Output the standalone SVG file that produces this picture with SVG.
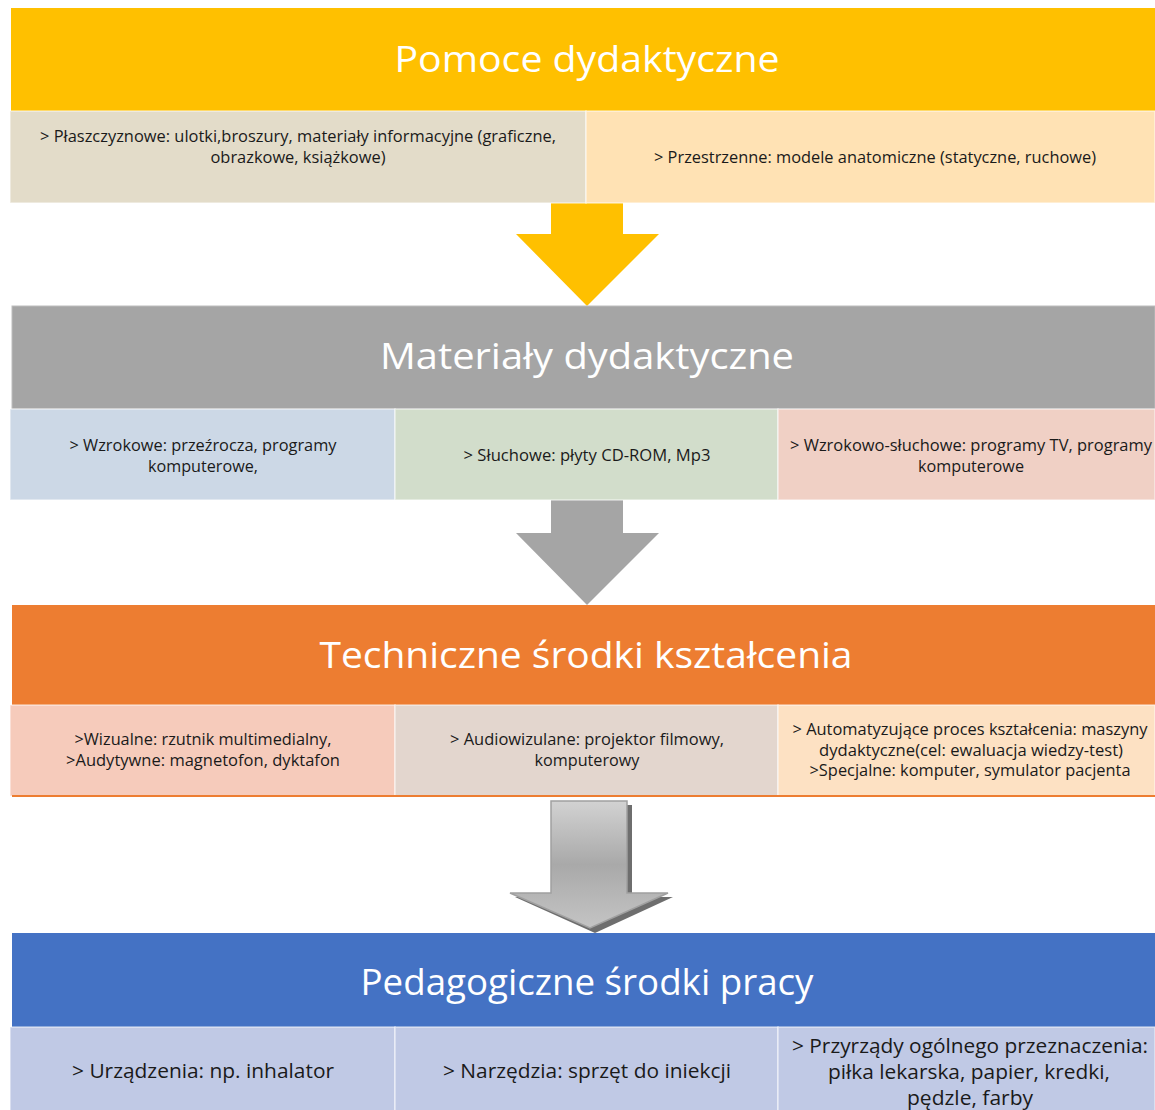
<svg xmlns="http://www.w3.org/2000/svg" width="1155" height="1110" viewBox="0 0 1155 1110">
<style>
.title{font-family:"Open Sans","Liberation Sans",sans-serif;font-size:36px;fill:#ffffff;text-anchor:middle}
.t{font-family:"Open Sans","Liberation Sans",sans-serif;font-size:15.5px;fill:#1a1a1a;text-anchor:middle}
.tb{font-family:"Open Sans","Liberation Sans",sans-serif;font-size:20px;fill:#1a1a1a;text-anchor:middle}
.box{stroke:#ffffff;stroke-opacity:0.55;stroke-width:1.5}
</style>
<defs>
<linearGradient id="g3" x1="0" y1="0" x2="0" y2="1">
<stop offset="0" stop-color="#d2d2d2"/>
<stop offset="0.5" stop-color="#a9a9a9"/>
<stop offset="1" stop-color="#c4c4c4"/>
</linearGradient>
</defs>
<rect width="1155" height="1110" fill="#ffffff"/>

<g id="connectors">
<polygon points="551,203 623,203 623,234 659,234 587,306 516,234 551,234" fill="#FFC000"/>
<polygon points="551,500 623,500 623,533 659,533 587,605 516,533 551,533" fill="#A5A5A5"/>
<polygon points="556,805 632,805 632,897 673,897 595,933 515,897 556,897" fill="#555555" opacity="0.85"/>
<polygon points="551,801 627,801 627,893 668,893 590,928 510,893 551,893" fill="url(#g3)" stroke="#a0a0a0" stroke-width="1.5"/>
</g>

<g id="header-pomoce">
<rect x="11" y="8" width="1144" height="103" fill="#FFC000"/>
<text class="title" x="587" y="72" textLength="385" lengthAdjust="spacingAndGlyphs">Pomoce dydaktyczne</text>
</g>
<g id="box-plaszczyznowe">
<rect class="box" x="10" y="111" width="576" height="92" fill="#E3DCC9" stroke="#d8d8d8"/>
<text class="t" x="298" y="142" textLength="516" lengthAdjust="spacingAndGlyphs">&gt; Płaszczyznowe: ulotki,broszury, materiały informacyjne (graficzne,</text>
<text class="t" x="298" y="163" textLength="175" lengthAdjust="spacingAndGlyphs">obrazkowe, książkowe)</text>
</g>
<g id="box-przestrzenne">
<rect class="box" x="586" y="111" width="569" height="92" fill="#FFE2B4"/>
<text class="t" x="875" y="163" textLength="442" lengthAdjust="spacingAndGlyphs">&gt; Przestrzenne: modele anatomiczne (statyczne, ruchowe)</text>
</g>

<g id="header-materialy">
<rect x="12" y="306" width="1143" height="103" fill="#A5A5A5" stroke="#bdbdbd" stroke-width="1"/>
<text class="title" x="587" y="369" textLength="414" lengthAdjust="spacingAndGlyphs">Materiały dydaktyczne</text>
</g>
<g id="box-wzrokowe">
<rect class="box" x="10" y="409" width="385" height="91" fill="#CCD8E6"/>
<text class="t" x="203" y="451" textLength="267" lengthAdjust="spacingAndGlyphs">&gt; Wzrokowe: przeźrocza, programy</text>
<text class="t" x="203" y="472" textLength="110" lengthAdjust="spacingAndGlyphs">komputerowe,</text>
</g>
<g id="box-sluchowe">
<rect class="box" x="395" y="409" width="383" height="91" fill="#D2DDCB"/>
<text class="t" x="587" y="461" textLength="247" lengthAdjust="spacingAndGlyphs">&gt; Słuchowe: płyty CD-ROM, Mp3</text>
</g>
<g id="box-wzrokowo-sluchowe">
<rect class="box" x="778" y="409" width="377" height="91" fill="#F0D0C5"/>
<text class="t" x="971" y="451" textLength="362" lengthAdjust="spacingAndGlyphs">&gt; Wzrokowo-słuchowe: programy TV, programy</text>
<text class="t" x="971" y="472" textLength="106" lengthAdjust="spacingAndGlyphs">komputerowe</text>
</g>

<g id="header-techniczne">
<rect x="12" y="605" width="1143" height="100" fill="#ED7D31"/>
<text class="title" x="586" y="668" textLength="533" lengthAdjust="spacingAndGlyphs">Techniczne środki kształcenia</text>
</g>
<g id="box-wizualne">
<rect class="box" x="10" y="705" width="385" height="91" fill="#F6CBBB"/>
<text class="t" x="203" y="745" textLength="257" lengthAdjust="spacingAndGlyphs">&gt;Wizualne: rzutnik multimedialny,</text>
<text class="t" x="203" y="766" textLength="274" lengthAdjust="spacingAndGlyphs">&gt;Audytywne: magnetofon, dyktafon</text>
</g>
<g id="box-audiowizualne">
<rect class="box" x="395" y="705" width="383" height="91" fill="#E3D6CE"/>
<text class="t" x="587" y="745" textLength="274" lengthAdjust="spacingAndGlyphs">&gt; Audiowizulane: projektor filmowy,</text>
<text class="t" x="587" y="766" textLength="105" lengthAdjust="spacingAndGlyphs">komputerowy</text>
</g>
<g id="box-automatyzujace">
<rect class="box" x="778" y="705" width="377" height="91" fill="#FDE1C3"/>
<text class="t" x="970" y="735" textLength="355" lengthAdjust="spacingAndGlyphs">&gt; Automatyzujące proces kształcenia: maszyny</text>
<text class="t" x="971" y="756" textLength="304" lengthAdjust="spacingAndGlyphs">dydaktyczne(cel: ewaluacja wiedzy-test)</text>
<text class="t" x="970" y="776" textLength="321" lengthAdjust="spacingAndGlyphs">&gt;Specjalne: komputer, symulator pacjenta</text>
</g>
<rect x="12" y="795" width="1143" height="2" fill="#ED7D31"/>

<g id="header-pedagogiczne">
<rect x="12" y="933" width="1143" height="94" fill="#4472C4"/>
<text class="title" x="587" y="995" textLength="453" lengthAdjust="spacingAndGlyphs">Pedagogiczne środki pracy</text>
</g>
<g id="box-urzadzenia">
<rect class="box" x="10" y="1027" width="385" height="85" fill="#C0C9E5"/>
<text class="tb" x="203" y="1078" textLength="262" lengthAdjust="spacingAndGlyphs">&gt; Urządzenia: np. inhalator</text>
</g>
<g id="box-narzedzia">
<rect class="box" x="395" y="1027" width="383" height="85" fill="#C0C9E5"/>
<text class="tb" x="587" y="1078" textLength="288" lengthAdjust="spacingAndGlyphs">&gt; Narzędzia: sprzęt do iniekcji</text>
</g>
<g id="box-przyrzady">
<rect class="box" x="778" y="1027" width="377" height="85" fill="#C0C9E5"/>
<text class="tb" x="970" y="1053" textLength="356" lengthAdjust="spacingAndGlyphs">&gt; Przyrządy ogólnego przeznaczenia:</text>
<text class="tb" x="969" y="1079" textLength="282" lengthAdjust="spacingAndGlyphs">piłka lekarska, papier, kredki,</text>
<text class="tb" x="970" y="1105" textLength="126" lengthAdjust="spacingAndGlyphs">pędzle, farby</text>
</g>
</svg>
